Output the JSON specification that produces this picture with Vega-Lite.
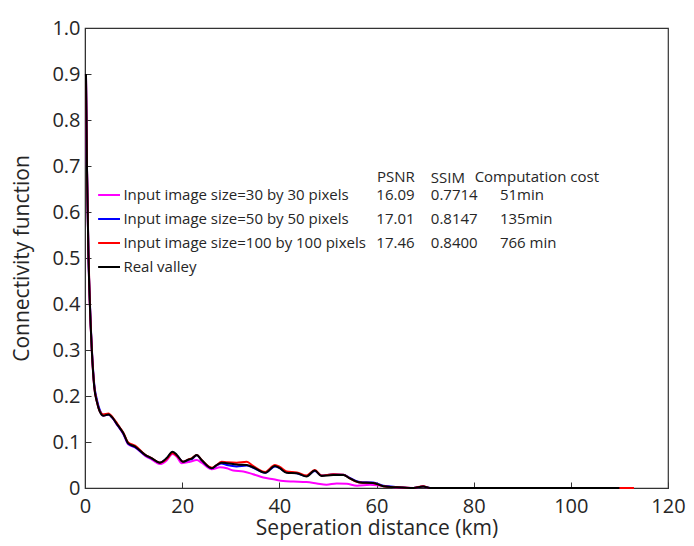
{
  "$schema": "https://vega.github.io/schema/vega-lite/v6.json",
  "width": 583,
  "height": 460,
  "autosize": {"type": "none"},
  "padding": {"left": 85, "top": 28, "right": 26, "bottom": 58},
  "background": "white",
  "config": {
    "font": "Open Sans",
    "view": {"stroke": "#333333", "strokeWidth": 1.2},
    "axis": {"grid": false, "domainColor": "#333333", "tickColor": "#333333", "labelColor": "#262626", "titleColor": "#262626", "labelFont": "Open Sans", "titleFont": "Open Sans", "titleFontWeight": "normal"},
    "text": {"font": "Open Sans", "color": "#262626"}
  },
  "datasets": {
    "curves": [
      {"series": "Input image size=30 by 30 pixels", "x": 0.2, "y": 0.9},
      {"series": "Input image size=30 by 30 pixels", "x": 0.4, "y": 0.7},
      {"series": "Input image size=30 by 30 pixels", "x": 0.7, "y": 0.51},
      {"series": "Input image size=30 by 30 pixels", "x": 1.0, "y": 0.4},
      {"series": "Input image size=30 by 30 pixels", "x": 1.4, "y": 0.3},
      {"series": "Input image size=30 by 30 pixels", "x": 1.9, "y": 0.22},
      {"series": "Input image size=30 by 30 pixels", "x": 2.5, "y": 0.186},
      {"series": "Input image size=30 by 30 pixels", "x": 3.0, "y": 0.168},
      {"series": "Input image size=30 by 30 pixels", "x": 3.8, "y": 0.157},
      {"series": "Input image size=30 by 30 pixels", "x": 4.8, "y": 0.16},
      {"series": "Input image size=30 by 30 pixels", "x": 5.8, "y": 0.15},
      {"series": "Input image size=30 by 30 pixels", "x": 6.5, "y": 0.139},
      {"series": "Input image size=30 by 30 pixels", "x": 7.2, "y": 0.129},
      {"series": "Input image size=30 by 30 pixels", "x": 7.9, "y": 0.117},
      {"series": "Input image size=30 by 30 pixels", "x": 8.9, "y": 0.095},
      {"series": "Input image size=30 by 30 pixels", "x": 10.3, "y": 0.088},
      {"series": "Input image size=30 by 30 pixels", "x": 12.4, "y": 0.07},
      {"series": "Input image size=30 by 30 pixels", "x": 13.7, "y": 0.062},
      {"series": "Input image size=30 by 30 pixels", "x": 15.4, "y": 0.052},
      {"series": "Input image size=30 by 30 pixels", "x": 16.8, "y": 0.06},
      {"series": "Input image size=30 by 30 pixels", "x": 18.0, "y": 0.074},
      {"series": "Input image size=30 by 30 pixels", "x": 18.9, "y": 0.068},
      {"series": "Input image size=30 by 30 pixels", "x": 19.9, "y": 0.054},
      {"series": "Input image size=30 by 30 pixels", "x": 21.6, "y": 0.057},
      {"series": "Input image size=30 by 30 pixels", "x": 23.0, "y": 0.061},
      {"series": "Input image size=30 by 30 pixels", "x": 24.0, "y": 0.055},
      {"series": "Input image size=30 by 30 pixels", "x": 26.1, "y": 0.041},
      {"series": "Input image size=30 by 30 pixels", "x": 27.8, "y": 0.045},
      {"series": "Input image size=30 by 30 pixels", "x": 29.2, "y": 0.043},
      {"series": "Input image size=30 by 30 pixels", "x": 30.5, "y": 0.038},
      {"series": "Input image size=30 by 30 pixels", "x": 32.6, "y": 0.036},
      {"series": "Input image size=30 by 30 pixels", "x": 34.6, "y": 0.03},
      {"series": "Input image size=30 by 30 pixels", "x": 36.7, "y": 0.023},
      {"series": "Input image size=30 by 30 pixels", "x": 38.8, "y": 0.019},
      {"series": "Input image size=30 by 30 pixels", "x": 40.8, "y": 0.015},
      {"series": "Input image size=30 by 30 pixels", "x": 42.9, "y": 0.014},
      {"series": "Input image size=30 by 30 pixels", "x": 45.6, "y": 0.013},
      {"series": "Input image size=30 by 30 pixels", "x": 47.7, "y": 0.01},
      {"series": "Input image size=30 by 30 pixels", "x": 49.7, "y": 0.007},
      {"series": "Input image size=30 by 30 pixels", "x": 51.8, "y": 0.01},
      {"series": "Input image size=30 by 30 pixels", "x": 53.9, "y": 0.009},
      {"series": "Input image size=30 by 30 pixels", "x": 56.0, "y": 0.005},
      {"series": "Input image size=30 by 30 pixels", "x": 58.7, "y": 0.007},
      {"series": "Input image size=30 by 30 pixels", "x": 60.8, "y": 0.005},
      {"series": "Input image size=30 by 30 pixels", "x": 64.8, "y": 0.001},
      {"series": "Input image size=30 by 30 pixels", "x": 67.6, "y": 0.0},
      {"series": "Input image size=30 by 30 pixels", "x": 69.6, "y": 0.003},
      {"series": "Input image size=30 by 30 pixels", "x": 71.0, "y": 0.0},
      {"series": "Input image size=30 by 30 pixels", "x": 110.0, "y": 0.0},

      {"series": "Input image size=50 by 50 pixels", "x": 0.2, "y": 0.9},
      {"series": "Input image size=50 by 50 pixels", "x": 0.4, "y": 0.7},
      {"series": "Input image size=50 by 50 pixels", "x": 0.7, "y": 0.515},
      {"series": "Input image size=50 by 50 pixels", "x": 1.0, "y": 0.405},
      {"series": "Input image size=50 by 50 pixels", "x": 1.4, "y": 0.305},
      {"series": "Input image size=50 by 50 pixels", "x": 1.9, "y": 0.226},
      {"series": "Input image size=50 by 50 pixels", "x": 2.5, "y": 0.19},
      {"series": "Input image size=50 by 50 pixels", "x": 3.0, "y": 0.171},
      {"series": "Input image size=50 by 50 pixels", "x": 3.8, "y": 0.159},
      {"series": "Input image size=50 by 50 pixels", "x": 4.8, "y": 0.16},
      {"series": "Input image size=50 by 50 pixels", "x": 5.8, "y": 0.151},
      {"series": "Input image size=50 by 50 pixels", "x": 6.5, "y": 0.14},
      {"series": "Input image size=50 by 50 pixels", "x": 7.2, "y": 0.129},
      {"series": "Input image size=50 by 50 pixels", "x": 7.9, "y": 0.118},
      {"series": "Input image size=50 by 50 pixels", "x": 8.9, "y": 0.096},
      {"series": "Input image size=50 by 50 pixels", "x": 10.3, "y": 0.089},
      {"series": "Input image size=50 by 50 pixels", "x": 12.4, "y": 0.071},
      {"series": "Input image size=50 by 50 pixels", "x": 13.7, "y": 0.064},
      {"series": "Input image size=50 by 50 pixels", "x": 15.4, "y": 0.055},
      {"series": "Input image size=50 by 50 pixels", "x": 16.8, "y": 0.064},
      {"series": "Input image size=50 by 50 pixels", "x": 18.0, "y": 0.077},
      {"series": "Input image size=50 by 50 pixels", "x": 18.9, "y": 0.071},
      {"series": "Input image size=50 by 50 pixels", "x": 20.2, "y": 0.057},
      {"series": "Input image size=50 by 50 pixels", "x": 21.3, "y": 0.061},
      {"series": "Input image size=50 by 50 pixels", "x": 22.0, "y": 0.063},
      {"series": "Input image size=50 by 50 pixels", "x": 23.0, "y": 0.071},
      {"series": "Input image size=50 by 50 pixels", "x": 24.0, "y": 0.06},
      {"series": "Input image size=50 by 50 pixels", "x": 26.1, "y": 0.043},
      {"series": "Input image size=50 by 50 pixels", "x": 27.1, "y": 0.049},
      {"series": "Input image size=50 by 50 pixels", "x": 28.1, "y": 0.053},
      {"series": "Input image size=50 by 50 pixels", "x": 29.2, "y": 0.05},
      {"series": "Input image size=50 by 50 pixels", "x": 31.2, "y": 0.047},
      {"series": "Input image size=50 by 50 pixels", "x": 33.3, "y": 0.049},
      {"series": "Input image size=50 by 50 pixels", "x": 34.6, "y": 0.044},
      {"series": "Input image size=50 by 50 pixels", "x": 37.1, "y": 0.033},
      {"series": "Input image size=50 by 50 pixels", "x": 39.1, "y": 0.047},
      {"series": "Input image size=50 by 50 pixels", "x": 40.1, "y": 0.043},
      {"series": "Input image size=50 by 50 pixels", "x": 41.5, "y": 0.034},
      {"series": "Input image size=50 by 50 pixels", "x": 43.6, "y": 0.032},
      {"series": "Input image size=50 by 50 pixels", "x": 45.6, "y": 0.026},
      {"series": "Input image size=50 by 50 pixels", "x": 47.3, "y": 0.037},
      {"series": "Input image size=50 by 50 pixels", "x": 48.7, "y": 0.027},
      {"series": "Input image size=50 by 50 pixels", "x": 51.1, "y": 0.03},
      {"series": "Input image size=50 by 50 pixels", "x": 53.2, "y": 0.029},
      {"series": "Input image size=50 by 50 pixels", "x": 54.5, "y": 0.022},
      {"series": "Input image size=50 by 50 pixels", "x": 56.6, "y": 0.013},
      {"series": "Input image size=50 by 50 pixels", "x": 59.3, "y": 0.012},
      {"series": "Input image size=50 by 50 pixels", "x": 61.4, "y": 0.005},
      {"series": "Input image size=50 by 50 pixels", "x": 64.2, "y": 0.002},
      {"series": "Input image size=50 by 50 pixels", "x": 67.6, "y": 0.0},
      {"series": "Input image size=50 by 50 pixels", "x": 69.6, "y": 0.003},
      {"series": "Input image size=50 by 50 pixels", "x": 71.0, "y": 0.0},
      {"series": "Input image size=50 by 50 pixels", "x": 110.0, "y": 0.0},

      {"series": "Input image size=100 by 100 pixels", "x": 0.2, "y": 0.9},
      {"series": "Input image size=100 by 100 pixels", "x": 0.4, "y": 0.7},
      {"series": "Input image size=100 by 100 pixels", "x": 0.7, "y": 0.515},
      {"series": "Input image size=100 by 100 pixels", "x": 1.0, "y": 0.402},
      {"series": "Input image size=100 by 100 pixels", "x": 1.4, "y": 0.302},
      {"series": "Input image size=100 by 100 pixels", "x": 1.9, "y": 0.222},
      {"series": "Input image size=100 by 100 pixels", "x": 2.5, "y": 0.186},
      {"series": "Input image size=100 by 100 pixels", "x": 3.0, "y": 0.168},
      {"series": "Input image size=100 by 100 pixels", "x": 3.8, "y": 0.16},
      {"series": "Input image size=100 by 100 pixels", "x": 4.8, "y": 0.162},
      {"series": "Input image size=100 by 100 pixels", "x": 5.8, "y": 0.152},
      {"series": "Input image size=100 by 100 pixels", "x": 6.5, "y": 0.142},
      {"series": "Input image size=100 by 100 pixels", "x": 7.2, "y": 0.131},
      {"series": "Input image size=100 by 100 pixels", "x": 7.9, "y": 0.12},
      {"series": "Input image size=100 by 100 pixels", "x": 8.9, "y": 0.099},
      {"series": "Input image size=100 by 100 pixels", "x": 10.3, "y": 0.092},
      {"series": "Input image size=100 by 100 pixels", "x": 12.4, "y": 0.072},
      {"series": "Input image size=100 by 100 pixels", "x": 13.7, "y": 0.065},
      {"series": "Input image size=100 by 100 pixels", "x": 15.4, "y": 0.055},
      {"series": "Input image size=100 by 100 pixels", "x": 16.8, "y": 0.063},
      {"series": "Input image size=100 by 100 pixels", "x": 18.0, "y": 0.076},
      {"series": "Input image size=100 by 100 pixels", "x": 18.9, "y": 0.07},
      {"series": "Input image size=100 by 100 pixels", "x": 20.2, "y": 0.057},
      {"series": "Input image size=100 by 100 pixels", "x": 21.3, "y": 0.062},
      {"series": "Input image size=100 by 100 pixels", "x": 22.0, "y": 0.065},
      {"series": "Input image size=100 by 100 pixels", "x": 23.0, "y": 0.072},
      {"series": "Input image size=100 by 100 pixels", "x": 24.0, "y": 0.061},
      {"series": "Input image size=100 by 100 pixels", "x": 26.1, "y": 0.044},
      {"series": "Input image size=100 by 100 pixels", "x": 27.1, "y": 0.05},
      {"series": "Input image size=100 by 100 pixels", "x": 28.1, "y": 0.057},
      {"series": "Input image size=100 by 100 pixels", "x": 29.2, "y": 0.056},
      {"series": "Input image size=100 by 100 pixels", "x": 31.2, "y": 0.055},
      {"series": "Input image size=100 by 100 pixels", "x": 33.3, "y": 0.057},
      {"series": "Input image size=100 by 100 pixels", "x": 34.6, "y": 0.048},
      {"series": "Input image size=100 by 100 pixels", "x": 37.1, "y": 0.035},
      {"series": "Input image size=100 by 100 pixels", "x": 39.1, "y": 0.05},
      {"series": "Input image size=100 by 100 pixels", "x": 40.1, "y": 0.046},
      {"series": "Input image size=100 by 100 pixels", "x": 41.5, "y": 0.036},
      {"series": "Input image size=100 by 100 pixels", "x": 43.6, "y": 0.034},
      {"series": "Input image size=100 by 100 pixels", "x": 45.6, "y": 0.027},
      {"series": "Input image size=100 by 100 pixels", "x": 47.3, "y": 0.039},
      {"series": "Input image size=100 by 100 pixels", "x": 48.7, "y": 0.027},
      {"series": "Input image size=100 by 100 pixels", "x": 51.1, "y": 0.03},
      {"series": "Input image size=100 by 100 pixels", "x": 53.2, "y": 0.029},
      {"series": "Input image size=100 by 100 pixels", "x": 54.5, "y": 0.021},
      {"series": "Input image size=100 by 100 pixels", "x": 56.6, "y": 0.012},
      {"series": "Input image size=100 by 100 pixels", "x": 59.3, "y": 0.011},
      {"series": "Input image size=100 by 100 pixels", "x": 61.4, "y": 0.004},
      {"series": "Input image size=100 by 100 pixels", "x": 64.2, "y": 0.0015},
      {"series": "Input image size=100 by 100 pixels", "x": 67.6, "y": 0.0},
      {"series": "Input image size=100 by 100 pixels", "x": 69.6, "y": 0.004},
      {"series": "Input image size=100 by 100 pixels", "x": 71.0, "y": 0.0},
      {"series": "Input image size=100 by 100 pixels", "x": 113.0, "y": 0.0},

      {"series": "Real valley", "x": 0.2, "y": 0.9},
      {"series": "Real valley", "x": 0.4, "y": 0.7},
      {"series": "Real valley", "x": 0.7, "y": 0.51},
      {"series": "Real valley", "x": 1.0, "y": 0.4},
      {"series": "Real valley", "x": 1.4, "y": 0.3},
      {"series": "Real valley", "x": 1.9, "y": 0.22},
      {"series": "Real valley", "x": 2.5, "y": 0.185},
      {"series": "Real valley", "x": 3.0, "y": 0.167},
      {"series": "Real valley", "x": 3.8, "y": 0.157},
      {"series": "Real valley", "x": 4.8, "y": 0.16},
      {"series": "Real valley", "x": 5.8, "y": 0.151},
      {"series": "Real valley", "x": 6.5, "y": 0.14},
      {"series": "Real valley", "x": 7.2, "y": 0.13},
      {"series": "Real valley", "x": 7.9, "y": 0.119},
      {"series": "Real valley", "x": 8.9, "y": 0.097},
      {"series": "Real valley", "x": 10.3, "y": 0.09},
      {"series": "Real valley", "x": 12.4, "y": 0.072},
      {"series": "Real valley", "x": 13.7, "y": 0.065},
      {"series": "Real valley", "x": 15.4, "y": 0.055},
      {"series": "Real valley", "x": 16.8, "y": 0.065},
      {"series": "Real valley", "x": 18.0, "y": 0.079},
      {"series": "Real valley", "x": 18.9, "y": 0.072},
      {"series": "Real valley", "x": 20.2, "y": 0.057},
      {"series": "Real valley", "x": 21.3, "y": 0.062},
      {"series": "Real valley", "x": 22.0, "y": 0.064},
      {"series": "Real valley", "x": 23.0, "y": 0.072},
      {"series": "Real valley", "x": 24.0, "y": 0.061},
      {"series": "Real valley", "x": 26.1, "y": 0.043},
      {"series": "Real valley", "x": 27.1, "y": 0.05},
      {"series": "Real valley", "x": 28.1, "y": 0.055},
      {"series": "Real valley", "x": 29.2, "y": 0.054},
      {"series": "Real valley", "x": 31.2, "y": 0.051},
      {"series": "Real valley", "x": 33.3, "y": 0.05},
      {"series": "Real valley", "x": 34.6, "y": 0.045},
      {"series": "Real valley", "x": 37.1, "y": 0.033},
      {"series": "Real valley", "x": 39.1, "y": 0.048},
      {"series": "Real valley", "x": 40.1, "y": 0.043},
      {"series": "Real valley", "x": 41.5, "y": 0.033},
      {"series": "Real valley", "x": 43.6, "y": 0.032},
      {"series": "Real valley", "x": 45.6, "y": 0.025},
      {"series": "Real valley", "x": 47.3, "y": 0.038},
      {"series": "Real valley", "x": 48.7, "y": 0.026},
      {"series": "Real valley", "x": 51.1, "y": 0.028},
      {"series": "Real valley", "x": 53.2, "y": 0.028},
      {"series": "Real valley", "x": 54.5, "y": 0.021},
      {"series": "Real valley", "x": 56.6, "y": 0.012},
      {"series": "Real valley", "x": 59.3, "y": 0.011},
      {"series": "Real valley", "x": 61.4, "y": 0.004},
      {"series": "Real valley", "x": 64.2, "y": 0.0015},
      {"series": "Real valley", "x": 67.6, "y": 0.0},
      {"series": "Real valley", "x": 69.6, "y": 0.003},
      {"series": "Real valley", "x": 71.0, "y": 0.0},
      {"series": "Real valley", "x": 110.0, "y": 0.0}
    ],
    "table": [
      {"series": "Input image size=30 by 30 pixels", "psnr": "16.09", "ssim": "0.7714", "cost": "51min"},
      {"series": "Input image size=50 by 50 pixels", "psnr": "17.01", "ssim": "0.8147", "cost": "135min"},
      {"series": "Input image size=100 by 100 pixels", "psnr": "17.46", "ssim": "0.8400", "cost": "766 min"},
      {"series": "Real valley", "psnr": "", "ssim": "", "cost": ""}
    ],
    "header": [
      {"psnr": "PSNR", "ssim": "SSIM", "cost": "Computation cost"}
    ]
  },
  "resolve": {"scale": {"y": "independent"}},
  "layer": [
    {
      "data": {"name": "curves"},
      "mark": {"type": "line", "strokeWidth": 2, "interpolate": "monotone"},
      "encoding": {
        "x": {
          "field": "x", "type": "quantitative",
          "scale": {"domain": [0, 120], "nice": false},
          "axis": {"values": [0, 20, 40, 60, 80, 100, 120], "title": "Seperation distance (km)", "labelFontSize": 20, "titleFontSize": 21, "tickSize": -6, "labelPadding": 14, "titlePadding": 1, "labelFlush": false}
        },
        "y": {
          "field": "y", "type": "quantitative",
          "scale": {"domain": [0, 1], "nice": false},
          "axis": {"values": [0, 0.1, 0.2, 0.3, 0.4, 0.5, 0.6, 0.7, 0.8, 0.9, 1.0], "title": "Connectivity function", "labelFontSize": 20, "titleFontSize": 21, "tickSize": -6, "labelPadding": 11, "titlePadding": 19, "labelFlush": false, "labelExpr": "datum.value == 0 ? '0' : format(datum.value, '.1f')"}
        },
        "color": {
          "field": "series", "type": "nominal",
          "scale": {
            "domain": ["Input image size=30 by 30 pixels", "Input image size=50 by 50 pixels", "Input image size=100 by 100 pixels", "Real valley"],
            "range": ["#ff00ff", "#0000ff", "#ff0000", "#000000"]
          },
          "legend": null
        }
      }
    },
    {
      "data": {"name": "table"},
      "mark": {"type": "rule", "strokeWidth": 2},
      "encoding": {
        "x": {"datum": 2.7, "type": "quantitative"},
        "x2": {"datum": 7.2},
        "y": {"field": "series", "type": "nominal", "sort": null, "axis": null,
              "scale": {"type": "point", "domain": ["Input image size=30 by 30 pixels", "Input image size=50 by 50 pixels", "Input image size=100 by 100 pixels", "Real valley"], "range": [167, 239], "padding": 0}},
        "color": {"field": "series", "type": "nominal", "legend": null}
      }
    },
    {
      "data": {"name": "table"},
      "mark": {"type": "text", "align": "left", "baseline": "middle", "fontSize": 15},
      "encoding": {
        "x": {"datum": 7.9, "type": "quantitative"},
        "y": {"field": "series", "type": "nominal", "sort": null, "axis": null,
              "scale": {"type": "point", "domain": ["Input image size=30 by 30 pixels", "Input image size=50 by 50 pixels", "Input image size=100 by 100 pixels", "Real valley"], "range": [167, 239], "padding": 0}},
        "text": {"field": "series"}
      }
    },
    {
      "data": {"name": "table"},
      "mark": {"type": "text", "align": "center", "baseline": "middle", "fontSize": 15},
      "encoding": {
        "x": {"datum": 63.9, "type": "quantitative"},
        "y": {"field": "series", "type": "nominal", "sort": null, "axis": null,
              "scale": {"type": "point", "domain": ["Input image size=30 by 30 pixels", "Input image size=50 by 50 pixels", "Input image size=100 by 100 pixels", "Real valley"], "range": [167, 239], "padding": 0}},
        "text": {"field": "psnr"}
      }
    },
    {
      "data": {"name": "table"},
      "mark": {"type": "text", "align": "center", "baseline": "middle", "fontSize": 15},
      "encoding": {
        "x": {"datum": 76.0, "type": "quantitative"},
        "y": {"field": "series", "type": "nominal", "sort": null, "axis": null,
              "scale": {"type": "point", "domain": ["Input image size=30 by 30 pixels", "Input image size=50 by 50 pixels", "Input image size=100 by 100 pixels", "Real valley"], "range": [167, 239], "padding": 0}},
        "text": {"field": "ssim"}
      }
    },
    {
      "data": {"name": "table"},
      "mark": {"type": "text", "align": "left", "baseline": "middle", "fontSize": 15},
      "encoding": {
        "x": {"datum": 85.4, "type": "quantitative"},
        "y": {"field": "series", "type": "nominal", "sort": null, "axis": null,
              "scale": {"type": "point", "domain": ["Input image size=30 by 30 pixels", "Input image size=50 by 50 pixels", "Input image size=100 by 100 pixels", "Real valley"], "range": [167, 239], "padding": 0}},
        "text": {"field": "cost"}
      }
    },
    {
      "data": {"name": "header"},
      "layer": [
        {
          "mark": {"type": "text", "align": "center", "baseline": "middle", "fontSize": 15},
          "encoding": {
            "x": {"datum": 64.0, "type": "quantitative"},
            "y": {"datum": 0.677, "type": "quantitative", "scale": {"domain": [0, 1], "nice": false}, "axis": null},
            "text": {"field": "psnr"}
          }
        },
        {
          "mark": {"type": "text", "align": "center", "baseline": "middle", "fontSize": 15},
          "encoding": {
            "x": {"datum": 74.7, "type": "quantitative"},
            "y": {"datum": 0.675, "type": "quantitative", "scale": {"domain": [0, 1], "nice": false}, "axis": null},
            "text": {"field": "ssim"}
          }
        },
        {
          "mark": {"type": "text", "align": "center", "baseline": "middle", "fontSize": 15},
          "encoding": {
            "x": {"datum": 93.0, "type": "quantitative"},
            "y": {"datum": 0.677, "type": "quantitative", "scale": {"domain": [0, 1], "nice": false}, "axis": null},
            "text": {"field": "cost"}
          }
        }
      ]
    }
  ]
}
